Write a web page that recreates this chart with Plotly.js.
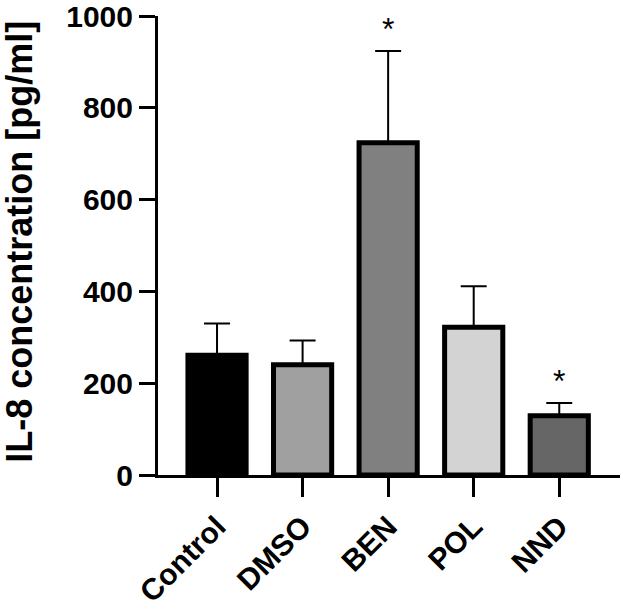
<!DOCTYPE html>
<html>
<head>
<meta charset="utf-8">
<script src="https://cdn.plot.ly/plotly-3.0.1.min.js"></script>
<style>
  html, body { margin: 0; padding: 0; background: #fff; }
  #myDiv { width: 623px; height: 611px; }
</style>
</head>
<body>
<div id="myDiv"></div>
<script>
// IL-8 concentration per treatment
var groups = ['Control', 'DMSO', 'BEN', 'POL', 'NND'];
var means = [261, 240, 724, 322, 129];
var sdUp = [69, 53, 200, 89, 28];
var fills = ['#000000', '#a0a0a0', '#808080', '#d3d3d3', '#666666'];
var stars = ['', '', '*', '', '*'];

var font = 'Liberation Sans, Arial, Helvetica, sans-serif';

var bars = {
  type: 'bar',
  x: groups,
  y: means,
  marker: {
    color: fills,
    line: { color: '#000', width: 5 }
  },
  error_y: {
    type: 'data',
    symmetric: false,
    array: sdUp,
    arrayminus: means.map(function () { return 0; }),
    color: '#000',
    thickness: 2,
    width: 13
  },
  hoverinfo: 'x+y'
};

// asterisks for significant groups, above the error bar
var notes = [];
for (var i = 0; i < groups.length; i++) {
  if (stars[i]) {
    notes.push({
      x: groups[i],
      y: means[i] + sdUp[i],
      xref: 'x', yref: 'y',
      text: stars[i],
      showarrow: false,
      yanchor: 'bottom',
      yshift: 2,
      font: { family: font, size: 32, color: '#000' }
    });
  }
}

// y title as an annotation so it can run the full page height like the original
notes.push({
  text: 'IL-8 concentration [pg/ml]',
  xref: 'paper', yref: 'paper',
  x: -0.299, y: 0.508,
  xanchor: 'center', yanchor: 'middle',
  textangle: -90,
  showarrow: false,
  font: { family: font, size: 36, color: '#000', weight: 'bold' }
});

var layout = {
  width: 623,
  height: 611,
  margin: { l: 158, r: 3, t: 16, b: 136 },
  paper_bgcolor: '#fff',
  plot_bgcolor: '#fff',
  showlegend: false,
  bargap: 0.32,
  font: { family: font, color: '#000' },
  xaxis: {
    range: [-0.69, 4.71],
    showline: true,
    linecolor: '#000',
    linewidth: 3,
    ticks: 'outside',
    ticklen: 19,
    tickwidth: 3,
    tickcolor: '#000',
    tickangle: -45,
    tickfont: { family: font, size: 30, color: '#000', weight: 'bold' },
    showgrid: false,
    zeroline: false,
    fixedrange: true
  },
  yaxis: {
    range: [0, 1000],
    tickvals: [0, 200, 400, 600, 800, 1000],
    showline: true,
    linecolor: '#000',
    linewidth: 3,
    ticks: 'outside',
    ticklen: 16,
    tickwidth: 3,
    tickcolor: '#000',
    tickfont: { family: font, size: 30, color: '#000', weight: 'bold' },
    ticklabeloverflow: 'allow',
    showgrid: false,
    zeroline: false,
    fixedrange: true
  },
  annotations: notes
};

Plotly.newPlot('myDiv', [bars], layout, { displayModeBar: false, displaylogo: false });
</script>
</body>
</html>
